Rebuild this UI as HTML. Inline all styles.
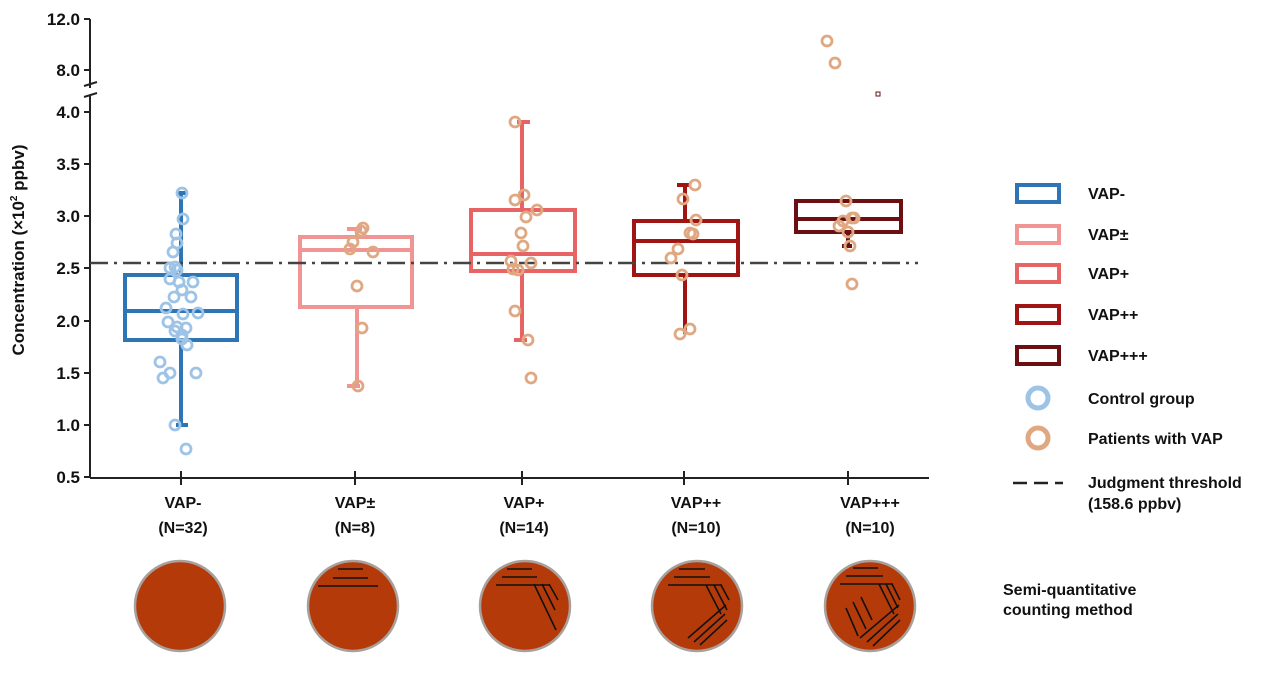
<!DOCTYPE html>
<html><head><meta charset="utf-8"><style>
body{margin:0;background:#fff;}
svg text{font-family:"Liberation Sans",sans-serif;font-weight:bold;fill:#111;}
</style></head><body>
<svg width="1268" height="668" viewBox="0 0 1268 668" xmlns="http://www.w3.org/2000/svg">
<g stroke="#222" stroke-width="2" fill="none">
<line x1="90" y1="19" x2="90" y2="88"/>
<line x1="90" y1="96" x2="90" y2="478"/>
<line x1="84" y1="86" x2="97" y2="82"/><line x1="84" y1="97" x2="97" y2="93"/>
<line x1="90" y1="478" x2="929" y2="478"/>
<g>
<line x1="84" y1="19" x2="90" y2="19"/><line x1="84" y1="70" x2="90" y2="70"/>
<line x1="84" y1="112" x2="90" y2="112"/><line x1="84" y1="164" x2="90" y2="164"/>
<line x1="84" y1="216" x2="90" y2="216"/><line x1="84" y1="268" x2="90" y2="268"/>
<line x1="84" y1="321" x2="90" y2="321"/><line x1="84" y1="373" x2="90" y2="373"/>
<line x1="84" y1="425" x2="90" y2="425"/><line x1="84" y1="477" x2="90" y2="477"/>
<line x1="181" y1="471" x2="181" y2="485"/><line x1="355" y1="471" x2="355" y2="485"/>
<line x1="522" y1="471" x2="522" y2="485"/><line x1="684" y1="471" x2="684" y2="485"/>
<line x1="848" y1="471" x2="848" y2="485"/>
</g></g>
<g font-size="17" text-anchor="end">
<text x="80" y="25">12.0</text><text x="80" y="76">8.0</text>
<text x="80" y="118">4.0</text><text x="80" y="170">3.5</text>
<text x="80" y="222">3.0</text><text x="80" y="274">2.5</text>
<text x="80" y="327">2.0</text><text x="80" y="379">1.5</text>
<text x="80" y="431">1.0</text><text x="80" y="483">0.5</text>
</g>
<text transform="translate(24,250) rotate(-90)" font-size="17" text-anchor="middle">Concentration (×10<tspan font-size="10" dy="-7">2</tspan><tspan dy="7"> ppbv)</tspan></text>
<g fill="none" stroke-width="4">
<g stroke="#2e75b6"><line x1="181" y1="193" x2="181" y2="425"/><line x1="176" y1="193" x2="188" y2="193"/><line x1="176" y1="425" x2="188" y2="425"/><rect x="125" y="275" width="112" height="65" fill="#fff"/><line x1="125" y1="311" x2="237" y2="311"/></g>
<g stroke="#f09494"><line x1="357" y1="229" x2="357" y2="386"/><line x1="347" y1="229" x2="362" y2="229"/><line x1="347" y1="386" x2="360" y2="386"/><rect x="300" y="237" width="112" height="70" fill="#fff"/><line x1="300" y1="250" x2="412" y2="250"/></g>
<g stroke="#e86464"><line x1="522" y1="122" x2="522" y2="340"/><line x1="517" y1="122" x2="530" y2="122"/><line x1="514" y1="340" x2="527" y2="340"/><rect x="471" y="210" width="104" height="61" fill="#fff"/><line x1="471" y1="254" x2="575" y2="254"/></g>
<g stroke="#a01414"><line x1="685" y1="185" x2="685" y2="334"/><line x1="677" y1="185" x2="690" y2="185"/><rect x="634" y="221" width="104" height="54" fill="#fff"/><line x1="634" y1="241" x2="738" y2="241"/></g>
<g stroke="#6b0f12"><line x1="848" y1="232" x2="848" y2="246"/><line x1="842" y1="246" x2="852" y2="246"/><rect x="796" y="201" width="105" height="31" fill="#fff"/><line x1="796" y1="219" x2="901" y2="219"/></g>
</g>
<line x1="90" y1="263" x2="918" y2="263" stroke="#444" stroke-width="2.5" stroke-dasharray="18,6,3,6"/>
<g fill="none" stroke="#9dc3e6" stroke-width="2.8">
<circle cx="182" cy="193" r="5"/><circle cx="183" cy="219" r="5"/><circle cx="176" cy="234" r="5"/><circle cx="177" cy="243" r="5"/><circle cx="173" cy="252" r="5"/>
<circle cx="170" cy="268" r="5"/><circle cx="177" cy="270" r="5"/><circle cx="170" cy="279" r="5"/><circle cx="179" cy="282" r="5"/><circle cx="193" cy="282" r="5"/>
<circle cx="182" cy="290" r="5"/><circle cx="174" cy="297" r="5"/><circle cx="191" cy="297" r="5"/><circle cx="166" cy="308" r="5"/><circle cx="198" cy="313" r="5"/>
<circle cx="183" cy="314" r="5"/><circle cx="168" cy="322" r="5"/><circle cx="177" cy="327" r="5"/><circle cx="186" cy="328" r="5"/><circle cx="175" cy="331" r="5"/>
<circle cx="182" cy="339" r="5"/><circle cx="187" cy="345" r="5"/><circle cx="160" cy="362" r="5"/><circle cx="170" cy="373" r="5"/><circle cx="196" cy="373" r="5"/>
<circle cx="163" cy="378" r="5"/><circle cx="175" cy="425" r="5"/><circle cx="186" cy="449" r="5"/><circle cx="182" cy="335" r="5"/><circle cx="175" cy="267" r="5"/>
</g>
<g fill="none" stroke="#e0a882" stroke-width="2.8">
<circle cx="363" cy="228" r="5"/><circle cx="361" cy="231" r="5"/><circle cx="353" cy="242" r="5"/><circle cx="350" cy="249" r="5"/><circle cx="373" cy="252" r="5"/><circle cx="357" cy="286" r="5"/><circle cx="362" cy="328" r="5"/><circle cx="358" cy="386" r="5"/>
<circle cx="515" cy="122" r="5"/><circle cx="524" cy="195" r="5"/><circle cx="515" cy="200" r="5"/><circle cx="537" cy="210" r="5"/><circle cx="526" cy="217" r="5"/><circle cx="521" cy="233" r="5"/><circle cx="523" cy="246" r="5"/><circle cx="511" cy="261" r="5"/><circle cx="531" cy="263" r="5"/><circle cx="513" cy="269" r="5"/><circle cx="518" cy="270" r="5"/><circle cx="515" cy="311" r="5"/><circle cx="528" cy="340" r="5"/><circle cx="531" cy="378" r="5"/>
<circle cx="695" cy="185" r="5"/><circle cx="683" cy="199" r="5"/><circle cx="696" cy="220" r="5"/><circle cx="690" cy="233" r="5"/><circle cx="693" cy="234" r="5"/><circle cx="678" cy="249" r="5"/><circle cx="671" cy="258" r="5"/><circle cx="682" cy="275" r="5"/><circle cx="690" cy="329" r="5"/><circle cx="680" cy="334" r="5"/>
<circle cx="827" cy="41" r="5"/><circle cx="835" cy="63" r="5"/><circle cx="846" cy="201" r="5"/><circle cx="852" cy="218" r="5"/><circle cx="843" cy="221" r="5"/><circle cx="839" cy="226" r="5"/><circle cx="848" cy="232" r="5"/><circle cx="850" cy="246" r="5"/><circle cx="852" cy="284" r="5"/><circle cx="854" cy="218" r="5"/>
</g>
<rect x="876" y="92" width="4" height="4" fill="none" stroke="#6b0f12" stroke-width="1"/>
<g font-size="16" text-anchor="middle">
<text x="183" y="508">VAP-</text><text x="183" y="533">(N=32)</text>
<text x="355" y="508">VAP±</text><text x="355" y="533">(N=8)</text>
<text x="524" y="508">VAP+</text><text x="524" y="533">(N=14)</text>
<text x="696" y="508">VAP++</text><text x="696" y="533">(N=10)</text>
<text x="870" y="508">VAP+++</text><text x="870" y="533">(N=10)</text>
</g>
<g fill="#b53a0a" stroke="#a8a09a" stroke-width="2.5">
<circle cx="180" cy="606" r="45"/><circle cx="353" cy="606" r="45"/><circle cx="525" cy="606" r="45"/><circle cx="697" cy="606" r="45"/><circle cx="870" cy="606" r="45"/>
</g>
<g stroke="#111" stroke-width="1.6">
<line x1="338" y1="569" x2="363" y2="569"/><line x1="333" y1="578" x2="368" y2="578"/><line x1="318" y1="586" x2="378" y2="586"/>
<line x1="507" y1="569" x2="532" y2="569"/><line x1="502" y1="577" x2="537" y2="577"/><line x1="496" y1="585" x2="550" y2="585"/>
<line x1="534" y1="584" x2="556" y2="630"/><line x1="542" y1="584" x2="555" y2="610"/><line x1="549" y1="584" x2="558" y2="600"/>
<line x1="679" y1="569" x2="705" y2="569"/><line x1="674" y1="577" x2="710" y2="577"/><line x1="668" y1="585" x2="722" y2="585"/>
<line x1="706" y1="585" x2="721" y2="614"/><line x1="714" y1="585" x2="727" y2="610"/><line x1="721" y1="585" x2="729" y2="600"/>
<line x1="726" y1="605" x2="688" y2="638"/><line x1="725" y1="614" x2="694" y2="642"/><line x1="727" y1="620" x2="700" y2="645"/>
<line x1="853" y1="568" x2="878" y2="568"/><line x1="846" y1="576" x2="883" y2="576"/><line x1="840" y1="584" x2="893" y2="584"/>
<line x1="879" y1="584" x2="894" y2="614"/><line x1="886" y1="584" x2="898" y2="608"/><line x1="892" y1="584" x2="900" y2="600"/>
<line x1="899" y1="605" x2="860" y2="638"/><line x1="898" y1="614" x2="867" y2="642"/><line x1="900" y1="620" x2="873" y2="646"/>
<line x1="846" y1="608" x2="858" y2="636"/><line x1="853" y1="602" x2="866" y2="629"/><line x1="861" y1="597" x2="872" y2="620"/>
</g>
<text x="1003" y="595" font-size="16">Semi-quantitative</text>
<text x="1003" y="615" font-size="16">counting method</text>
<g fill="none" stroke-width="4">
<rect x="1017" y="185" width="42" height="17" stroke="#2e75b6"/>
<rect x="1017" y="226" width="42" height="17" stroke="#f09494"/>
<rect x="1017" y="265" width="42" height="17" stroke="#e86464"/>
<rect x="1017" y="306" width="42" height="17" stroke="#a01414"/>
<rect x="1017" y="347" width="42" height="17" stroke="#6b0f12"/>
<circle cx="1038" cy="398" r="10" stroke="#9dc3e6" stroke-width="5"/>
<circle cx="1038" cy="438" r="10" stroke="#e0a882" stroke-width="5"/>
</g>
<line x1="1013" y1="483" x2="1063" y2="483" stroke="#222" stroke-width="2.5" stroke-dasharray="14,7"/>
<g font-size="16">
<text x="1088" y="199">VAP-</text><text x="1088" y="240">VAP±</text><text x="1088" y="279">VAP+</text>
<text x="1088" y="320">VAP++</text><text x="1088" y="361">VAP+++</text>
<text x="1088" y="404">Control group</text><text x="1088" y="444">Patients with VAP</text>
<text x="1088" y="488">Judgment threshold</text><text x="1088" y="509">(158.6 ppbv)</text>
</g>
</svg>
</body></html>
